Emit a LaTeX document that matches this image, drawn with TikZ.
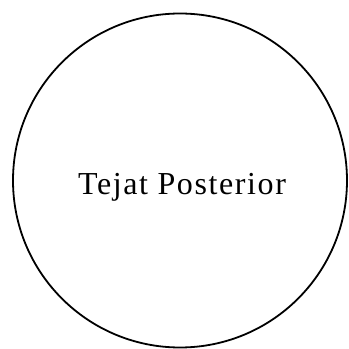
\documentclass[tikz,border=0pt]{standalone}
\usepackage{fontspec}
\setmainfont{Liberation Serif}
\usetikzlibrary{positioning}

\begin{document}
\begin{tikzpicture}[
  star/.style={draw,circle,line width=1.8pt,minimum size=334pt,inner sep=0pt},
  starname/.style={anchor=base,font=\addfontfeature{LetterSpace=5}\fontsize{32}{36}\selectfont}]
  \useasboundingbox (0,0) rectangle (349pt,349pt);
  \node[star] (tejat) at (180pt,168.5pt) {};
  \node[starname] (tejatname) at (182pt,154pt) {Tejat Posterior};
\end{tikzpicture}
\end{document}
